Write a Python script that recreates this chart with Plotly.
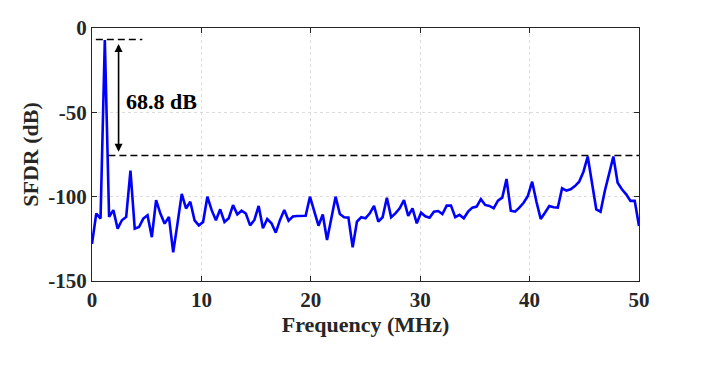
import plotly.graph_objects as go

# ---- data ----
n_points = 129
f_max = 50.0
freq = [i * f_max / (n_points - 1) for i in range(n_points)]
sfdr = [-128, -110, -113, -7.2, -112, -108, -119, -114, -112, -84.6,
        -119, -118, -113, -111, -124, -102, -110, -116, -112, -133,
        -116, -98.4, -107, -103, -114, -117, -115, -100, -108, -114,
        -107.5, -115, -112.8, -105, -110.5, -108.3, -110, -117, -113.8, -105.5,
        -118.7, -113.2, -115.8, -121.3, -113.8, -107.9, -114.2, -111.8, -111.5, -111.5,
        -111.3, -100, -108.3, -117.2, -110.6, -125.7, -113, -100, -110.3, -112.2,
        -112.4, -130, -114.8, -112.2, -112.8, -109.9, -105.5, -114.8, -112.2, -100.6,
        -112.2, -109.9, -106.9, -102, -111.4, -106.9, -115.8, -109.5, -111.6, -112.5,
        -108.9, -108.5, -110.3, -105.3, -105.3, -112.2, -110.8, -112.8, -108.9, -106.5,
        -105.9, -101.5, -104.9, -105.5, -106.9, -102.4, -100.6, -89.5, -108.3, -108.9,
        -106.5, -103.6, -99.6, -91.1, -103, -113.2, -109.5, -105.5, -106.3, -106.5,
        -95, -96.4, -95.6, -93.7, -91.1, -85.2, -76.2, -92, -107.5, -108.9,
        -96.6, -86.5, -76.2, -91.7, -95.6, -98.6, -102.5, -102.5, -117.4]

x_ticks = [0, 10, 20, 30, 40, 50]
x_ticktext = ["0", "10", "20", "30", "40", "50"]
y_ticks = [-150, -100, -50, 0]
y_ticktext = ["-150", "-100", "-50", "0"]

peak_level = -6.8
spur_level = -75.6
annotation_text = "68.8 dB"

FONT = "Liberation Serif, Times New Roman, serif"
TXT = "#262626"

fig = go.Figure()
fig.add_trace(go.Scatter(x=freq, y=sfdr, mode="lines",
                         line=dict(color="#0000ff", width=2.6),
                         showlegend=False, hoverinfo="skip"))

# dashed reference lines
fig.add_shape(type="line", xref="x", yref="y", x0=0.35, x1=4.6,
              y0=peak_level, y1=peak_level,
              line=dict(color="black", width=1.6, dash="7px,4px"))
fig.add_shape(type="line", xref="x", yref="y", x0=1.5, x1=50,
              y0=spur_level, y1=spur_level,
              line=dict(color="black", width=1.6, dash="7px,4px"))

# double-headed arrow
fig.add_annotation(x=2.43, y=spur_level + 2.2, ax=2.43, ay=peak_level - 1.8,
                   xref="x", yref="y", axref="x", ayref="y",
                   text="", showarrow=True, arrowhead=2, startarrowhead=2,
                   arrowside="end+start", arrowsize=1.0, startarrowsize=1.0,
                   arrowwidth=1.6, arrowcolor="black")
fig.add_annotation(x=6.35, y=-43.5, xref="x", yref="y", text=annotation_text,
                   showarrow=False,
                   font=dict(family=FONT, size=22, color="black", weight="bold"))

axis_common = dict(
    showline=True, linecolor=TXT, linewidth=1.3, mirror="ticks",
    ticks="inside", ticklen=5, tickcolor=TXT, tickwidth=1,
    showgrid=True, gridcolor="#dcdcdc", gridwidth=1, griddash="3px,3px",
    zeroline=False,
    tickfont=dict(family=FONT, size=21, color=TXT, weight="bold"),
)

fig.update_xaxes(range=[0, 50], tickvals=x_ticks, ticktext=x_ticktext,
                 title=dict(text="Frequency (MHz)", standoff=4,
                            font=dict(family=FONT, size=22, color=TXT, weight="bold")),
                 **axis_common)
fig.update_yaxes(range=[-150, 0], tickvals=y_ticks, ticktext=y_ticktext,
                 title=dict(text="SFDR (dB)", standoff=3,
                            font=dict(family=FONT, size=22, color=TXT, weight="bold")),
                 **axis_common)

fig.update_layout(width=705, height=369,
                  margin=dict(l=84, r=74, t=20, b=96, autoexpand=False),
                  paper_bgcolor="white", plot_bgcolor="white",
                  font=dict(family=FONT, color=TXT))

fig.write_html("out.html")
